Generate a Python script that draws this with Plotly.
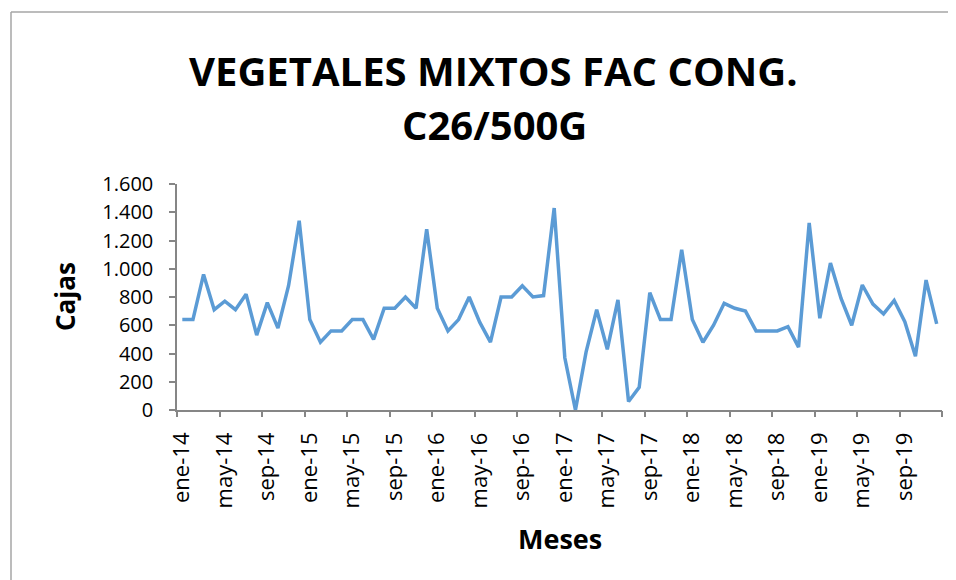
import plotly.graph_objects as go

meses_abrev = ["ene", "feb", "mar", "abr", "may", "jun", "jul", "ago", "sep", "oct", "nov", "dic"]
anios = ["14", "15", "16", "17", "18", "19"]
categorias = [f"{m}-{a}" for a in anios for m in meses_abrev]

cajas = [
    640, 640, 960, 710, 770, 710, 820, 530, 760, 580, 880, 1340,
    640, 480, 560, 560, 640, 640, 500, 720, 720, 800, 720, 1280,
    720, 560, 640, 800, 620, 480, 800, 800, 880, 800, 810, 1430,
    370, 0, 410, 710, 430, 780, 60, 160, 830, 640, 640, 1135,
    640, 480, 600, 755, 720, 700, 560, 560, 560, 590, 445, 1325,
    650, 1040, 790, 600, 885, 750, 680, 775, 625, 380, 920, 610,
]

y_ticks = [0, 200, 400, 600, 800, 1000, 1200, 1400, 1600]
y_ticktext = ["0", "200", "400", "600", "800", "1.000", "1.200", "1.400", "1.600"]

# page body has an 8px margin: work in reference pixels, shift by OFF
OFF = 8
W, H = 956 - OFF, 580 - OFF
L, R, T, B = 177 - OFF, 942 - OFF, 184 - OFF, 410 - OFF
pw, ph = R - L, B - T

def px_x(x):
    return (x - OFF - L) / pw

def px_y(y):
    return (B - (y - OFF)) / ph

idx = list(range(len(categorias)))
label_idx = idx[::4]
label_text = [categorias[i] for i in label_idx]
boundary_ticks = [i - 0.5 for i in range(0, len(categorias) + 1, 4)]

FONT = "Open Sans"
AX = "#868686"
BORDER = "#A6A6A6"

fig = go.Figure()
fig.add_trace(go.Scatter(
    x=idx, y=cajas, mode="lines",
    line=dict(color="#5B9BD5", width=3.5),
    hoverinfo="skip", showlegend=False,
))
fig.add_trace(go.Scatter(x=[-0.5, 71.5], y=[0, 0], xaxis="x2", mode="lines",
                         line=dict(width=0), showlegend=False, hoverinfo="skip"))

fig.update_layout(
    width=W, height=H,
    margin=dict(l=L, r=W - R, t=T, b=H - B, autoexpand=False),
    paper_bgcolor="white", plot_bgcolor="white",
    font=dict(family=FONT, color="black"),
    xaxis=dict(
        range=[-0.5, len(categorias) - 0.5],
        tickmode="array", tickvals=label_idx, ticktext=label_text,
        tickangle=-90, ticks="outside", ticklen=12, tickcolor="rgba(0,0,0,0)",
        tickfont=dict(size=22, family=FONT),
        showline=True, linecolor=AX, linewidth=1.5,
        showgrid=False, zeroline=False,
    ),
    xaxis2=dict(
        overlaying="x", range=[-0.5, len(categorias) - 0.5],
        tickmode="array", tickvals=boundary_ticks, showticklabels=False,
        ticks="outside", ticklen=6, tickcolor=AX, tickwidth=1.5,
        showline=False, showgrid=False, zeroline=False, anchor="y", side="bottom",
    ),
    yaxis=dict(
        range=[0, 1600],
        tickmode="array", tickvals=y_ticks, ticktext=y_ticktext,
        ticks="outside", ticklen=6, tickcolor=AX, tickwidth=1.5,
        ticklabelstandoff=12,
        tickfont=dict(size=20, family=FONT),
        showline=True, linecolor=AX, linewidth=1.5,
        showgrid=False, zeroline=False,
    ),
    annotations=[
        dict(text="<b>VEGETALES MIXTOS FAC CONG.</b>", x=px_x(493), y=px_y(70),
             xref="paper", yref="paper", xanchor="center", yanchor="middle",
             showarrow=False, font=dict(size=40, family=FONT, color="black")),
        dict(text="<b>C26/500G</b>", x=px_x(494), y=px_y(125),
             xref="paper", yref="paper", xanchor="center", yanchor="middle",
             showarrow=False, font=dict(size=40, family=FONT, color="black")),
        dict(text="<b>Cajas</b>", x=px_x(65), y=px_y(297), textangle=-90,
             xref="paper", yref="paper", xanchor="center", yanchor="middle",
             showarrow=False, font=dict(size=26, family=FONT, color="black")),
        dict(text="<b>Meses</b>", x=px_x(560), y=px_y(538),
             xref="paper", yref="paper", xanchor="center", yanchor="middle",
             showarrow=False, font=dict(size=27, family=FONT, color="black")),
    ],
    shapes=[
        dict(type="line", xref="paper", yref="paper",
             x0=px_x(11), x1=px_x(956), y0=px_y(12), y1=px_y(12),
             line=dict(color=BORDER, width=1.5), layer="below"),
        dict(type="line", xref="paper", yref="paper",
             x0=px_x(11), x1=px_x(11), y0=px_y(12), y1=px_y(580),
             line=dict(color=BORDER, width=1.5), layer="below"),
    ],
)

fig.write_html("out.html", config={"displayModeBar": False})
